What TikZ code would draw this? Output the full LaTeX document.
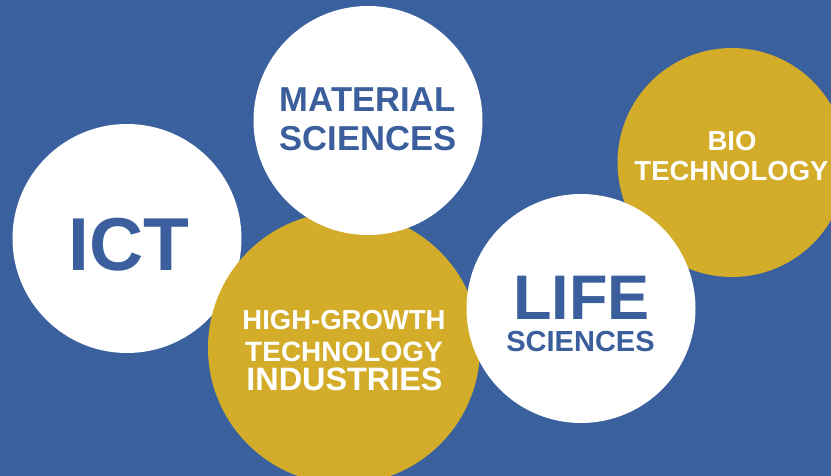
\documentclass[tikz,border=0pt]{standalone}
\usepackage{fontspec}
\setmainfont{Liberation Sans}
\definecolor{bgblue}{HTML}{3A619D}
\definecolor{txtblue}{HTML}{3A5F9C}
\definecolor{gold}{HTML}{D3AC2A}
\tikzset{
  disc/.style={circle, inner sep=0pt, minimum size=229bp, draw=none},
  wdisc/.style={disc, fill=white},
  gdisc/.style={disc, fill=gold},
  lbl/.style={anchor=base, inner sep=0pt, font=\bfseries\fontsize{#1bp}{#1bp}\selectfont},
  blbl/.style={lbl=#1, text=txtblue},
  wlbl/.style={lbl=#1, text=white}
}
\begin{document}
\begin{tikzpicture}[x=1bp,y=-1bp]
\useasboundingbox (0,0) rectangle (831,476);
\fill[bgblue] (0,0) rectangle (831,476);
\clip (0,0) rectangle (831,476);
% circles (drawing order = layering)
\node[wdisc] (ict) at (127,238.5) {};
\node[gdisc, minimum size=272bp] (hg) at (344,348) {};
\node[wdisc] (mat) at (368,120.5) {};
\node[gdisc] (bio) at (732,162.5) {};
\node[wdisc] (life) at (581,308.5) {};
% labels
\node[blbl=75] (ictT) at (129,271) {ICT};
\node[blbl=34.6] (matA) at (368,112) {MATERIAL};
\node[blbl=34.6] (matB) at (368,150.5) {SCIENCES};
\node[wlbl=27.5] (bioA) at (732,151) {BIO};
\node[wlbl=27.5] (bioB) at (731.5,181) {TECHNOLOGY};
\node[wlbl=27.5] (hgA) at (344,330) {HIGH-GROWTH};
\node[wlbl=28] (hgB) at (344,361.5) {TECHNOLOGY};
\node[wlbl=32.4] (hgC) at (344.5,390.5) {INDUSTRIES};
\node[blbl=63] (lifeA) at (581.5,320) {LIFE};
\node[blbl=29] (lifeB) at (580.5,351.5) {SCIENCES};
\end{tikzpicture}
\end{document}
